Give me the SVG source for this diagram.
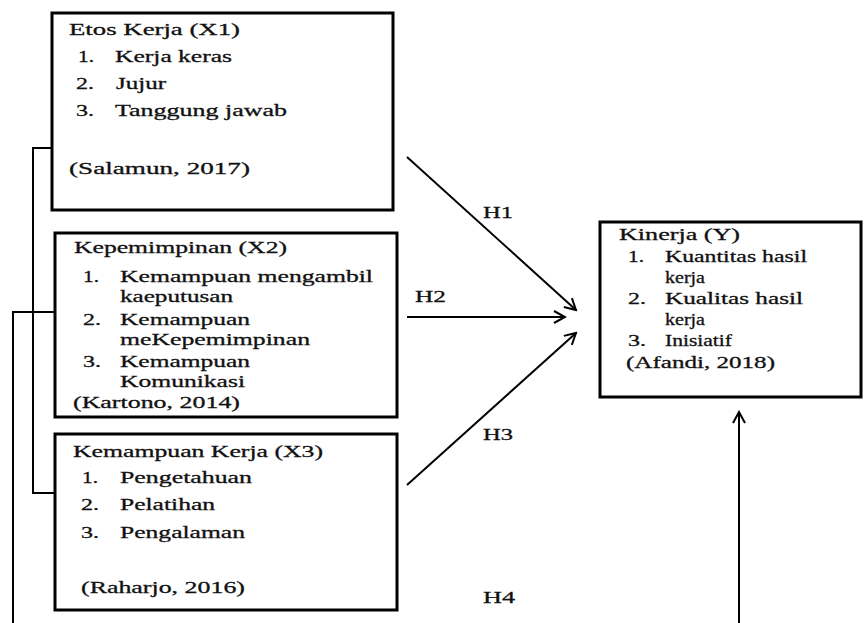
<svg xmlns="http://www.w3.org/2000/svg" width="864" height="623" viewBox="0 0 864 623">
<style>
text{font-family:"Liberation Serif","Times New Roman",serif;font-size:17px;fill:#111;stroke:#111;stroke-width:0.3;}
.n{font-size:17px;}
.box{fill:#fff;stroke:#000;stroke-width:3;}
.ln{fill:none;stroke:#000;stroke-width:2;}
.ar{fill:none;stroke:#000;stroke-width:2;marker-end:url(#arr);}
</style>
<defs>
<marker id="arr" markerUnits="userSpaceOnUse" markerWidth="16" markerHeight="16" viewBox="0 0 16 16" refX="14" refY="8" orient="auto">
<path d="M3,2 L14,8 L3,14" fill="none" stroke="#000" stroke-width="2"/>
</marker>
</defs>
<rect width="864" height="623" fill="#fff"/>
<g id="connectors">
<path class="ln" d="M52,148 H33 V493 H55"/>
<path class="ln" d="M55,312 H13 V623"/>
<line class="ar" x1="407" y1="157" x2="576" y2="310"/>
<line class="ar" x1="407" y1="317" x2="565" y2="317"/>
<line class="ar" x1="407" y1="485" x2="576" y2="333"/>
<line class="ar" x1="739" y1="623" x2="739" y2="412"/>
<text x="483" y="218" textLength="30" lengthAdjust="spacingAndGlyphs">H1</text>
<text x="415" y="302" textLength="31" lengthAdjust="spacingAndGlyphs">H2</text>
<text x="483" y="440" textLength="30" lengthAdjust="spacingAndGlyphs">H3</text>
<text x="483" y="603" textLength="32" lengthAdjust="spacingAndGlyphs">H4</text>
</g>
<g id="x1">
<rect class="box" x="52" y="13" width="341" height="197"/>
<text x="69" y="35" textLength="171" lengthAdjust="spacingAndGlyphs">Etos Kerja  (X1)</text>
<text x="78" y="62" textLength="16" lengthAdjust="spacingAndGlyphs">1.</text>
<text x="115" y="62" textLength="117" lengthAdjust="spacingAndGlyphs">Kerja keras</text>
<text x="76" y="89" textLength="18" lengthAdjust="spacingAndGlyphs">2.</text>
<text x="116" y="89" textLength="50" lengthAdjust="spacingAndGlyphs">Jujur</text>
<text x="76" y="116" textLength="18" lengthAdjust="spacingAndGlyphs">3.</text>
<text x="115" y="116" textLength="172" lengthAdjust="spacingAndGlyphs">Tanggung jawab</text>
<text x="69" y="174" textLength="181" lengthAdjust="spacingAndGlyphs">(Salamun, 2017)</text>
</g>
<g id="x2">
<rect class="box" x="55" y="233" width="342" height="184"/>
<text x="74" y="253" textLength="213" lengthAdjust="spacingAndGlyphs">Kepemimpinan (X2)</text>
<text x="83" y="282" textLength="16" lengthAdjust="spacingAndGlyphs">1.</text>
<text x="120" y="282" textLength="253" lengthAdjust="spacingAndGlyphs">Kemampuan mengambil</text>
<text x="120" y="302" textLength="113" lengthAdjust="spacingAndGlyphs">kaeputusan</text>
<text x="83" y="325" textLength="18" lengthAdjust="spacingAndGlyphs">2.</text>
<text x="120" y="325" textLength="130" lengthAdjust="spacingAndGlyphs">Kemampuan</text>
<text x="120" y="345" textLength="190" lengthAdjust="spacingAndGlyphs">meKepemimpinan</text>
<text x="83" y="367" textLength="18" lengthAdjust="spacingAndGlyphs">3.</text>
<text x="120" y="367" textLength="130" lengthAdjust="spacingAndGlyphs">Kemampuan</text>
<text x="120" y="387" textLength="125" lengthAdjust="spacingAndGlyphs">Komunikasi</text>
<text x="73" y="408" textLength="167" lengthAdjust="spacingAndGlyphs">(Kartono, 2014)</text>
</g>
<g id="x3">
<rect class="box" x="55" y="434" width="342" height="176"/>
<text x="73" y="457" textLength="250" lengthAdjust="spacingAndGlyphs">Kemampuan Kerja (X3)</text>
<text x="82" y="483" textLength="16" lengthAdjust="spacingAndGlyphs">1.</text>
<text x="120" y="483" textLength="132" lengthAdjust="spacingAndGlyphs">Pengetahuan</text>
<text x="81" y="510" textLength="18" lengthAdjust="spacingAndGlyphs">2.</text>
<text x="120" y="510" textLength="95" lengthAdjust="spacingAndGlyphs">Pelatihan</text>
<text x="81" y="538" textLength="18" lengthAdjust="spacingAndGlyphs">3.</text>
<text x="120" y="538" textLength="125" lengthAdjust="spacingAndGlyphs">Pengalaman</text>
<text x="81" y="593" textLength="164" lengthAdjust="spacingAndGlyphs">(Raharjo, 2016)</text>
</g>
<g id="y">
<rect class="box" x="600" y="222" width="261" height="175"/>
<text x="619" y="240" textLength="121" lengthAdjust="spacingAndGlyphs">Kinerja (Y)</text>
<text x="628" y="262" textLength="16" lengthAdjust="spacingAndGlyphs">1.</text>
<text x="665" y="262" textLength="142" lengthAdjust="spacingAndGlyphs">Kuantitas hasil</text>
<text x="665" y="283" textLength="40" lengthAdjust="spacingAndGlyphs">kerja</text>
<text x="628" y="304" textLength="18" lengthAdjust="spacingAndGlyphs">2.</text>
<text x="665" y="304" textLength="138" lengthAdjust="spacingAndGlyphs">Kualitas hasil</text>
<text x="665" y="325" textLength="40" lengthAdjust="spacingAndGlyphs">kerja</text>
<text x="628" y="346" textLength="18" lengthAdjust="spacingAndGlyphs">3.</text>
<text x="665" y="346" textLength="67" lengthAdjust="spacingAndGlyphs">Inisiatif</text>
<text x="626" y="368" textLength="149" lengthAdjust="spacingAndGlyphs">(Afandi, 2018)</text>
</g>
</svg>
